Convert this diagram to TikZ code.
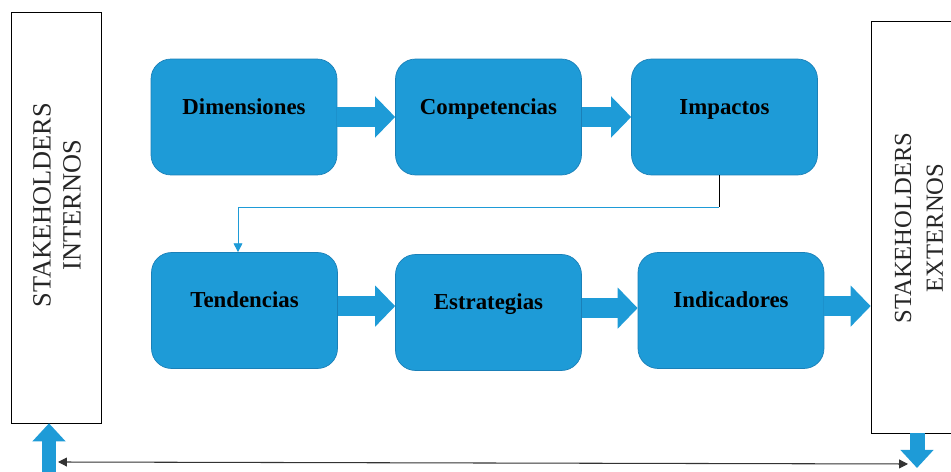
\documentclass[tikz,border=0pt]{standalone}
\usepackage{fontspec}
\setmainfont{Liberation Serif}
\usetikzlibrary{arrows.meta}
\definecolor{boxblue}{RGB}{30,155,215}
\definecolor{edgeblue}{RGB}{26,128,184}

\begin{document}
\begin{tikzpicture}[x=0.02cm, y=-0.02cm,
  blk/.style={rectangle, rounded corners=0.4cm, fill=boxblue, draw=edgeblue,
    minimum width=3.72cm, minimum height=2.32cm,
    font=\bfseries\fontsize{13}{15}\selectfont, text height=9pt, text depth=12pt},
  fat/.style={line width=0.4cm, boxblue, -{Triangle[length=0.4cm,width=0.8cm]}},
  slim/.style={line width=0.3cm, boxblue, -{Triangle[length=0.36cm,width=0.64cm]}},
  side/.style={rectangle, draw, minimum width=1.8cm, inner sep=0pt},
  sidetxt/.style={rotate=90, align=center, text=black!85}]
\useasboundingbox (0,0) rectangle (951,472);

% stakeholders
\node[side, minimum height=8.22cm] (intern) at (56.5,217.5) {};
\node[sidetxt, font=\fontsize{15}{17}\selectfont] (intlbl) at (57,205) {STAKEHOLDERS\\INTERNOS};
\node[side, minimum height=8.24cm] (ext) at (916,227) {};
\node[sidetxt, font=\fontsize{14}{18}\selectfont] (extlbl) at (919,228) {STAKEHOLDERS\\EXTERNOS};

% first row
\node[blk] (dim) at (244,117) {Dimensiones};
\node[blk] (comp) at (488.5,117) {Competencias};
\node[blk] (imp) at (724.5,117) {Impactos};

% second row
\node[blk] (tend) at (244.5,310.5) {Tendencias};
\node[blk] (estr) at (488.5,312.5) {Estrategias};
\node[blk] (indic) at (731,310.5) {Indicadores};

\draw[fat] (dim.east) -- (comp.west);
\draw[fat] (comp.east) -- (imp.west);
\draw[fat] ([yshift=2.5pt]tend.east) -- ([yshift=2.5pt]tend.east -| estr.west);
\draw[fat] ([yshift=2.5pt]estr.east) -- ([yshift=2.5pt]estr.east -| indic.west);
\draw[fat] ([yshift=2.5pt]indic.east) -- ([yshift=2.5pt]indic.east -| ext.west);

% link between rows
\coordinate (turn) at (719,207);
\coordinate (drop) at (238,207);
\draw[black] (imp.south -| turn) -- (turn);
\draw[boxblue, -{Triangle[length=5pt,width=5pt]}] (turn) -- (drop) -- (drop |- tend.north);

% bottom
\coordinate (upfoot) at (49,472);
\coordinate (downtip) at (917,468);
\coordinate (linel) at (58,462);
\coordinate (liner) at (908,464);
\draw[slim] (upfoot) -- (upfoot |- intern.south);
\draw[slim] (ext.south -| downtip) -- (downtip);
\draw[semithick, black!80, {Triangle[length=5pt,width=5pt]}-{Triangle[length=5pt,width=5pt]}] (linel) -- (liner);

\end{tikzpicture}
\end{document}
